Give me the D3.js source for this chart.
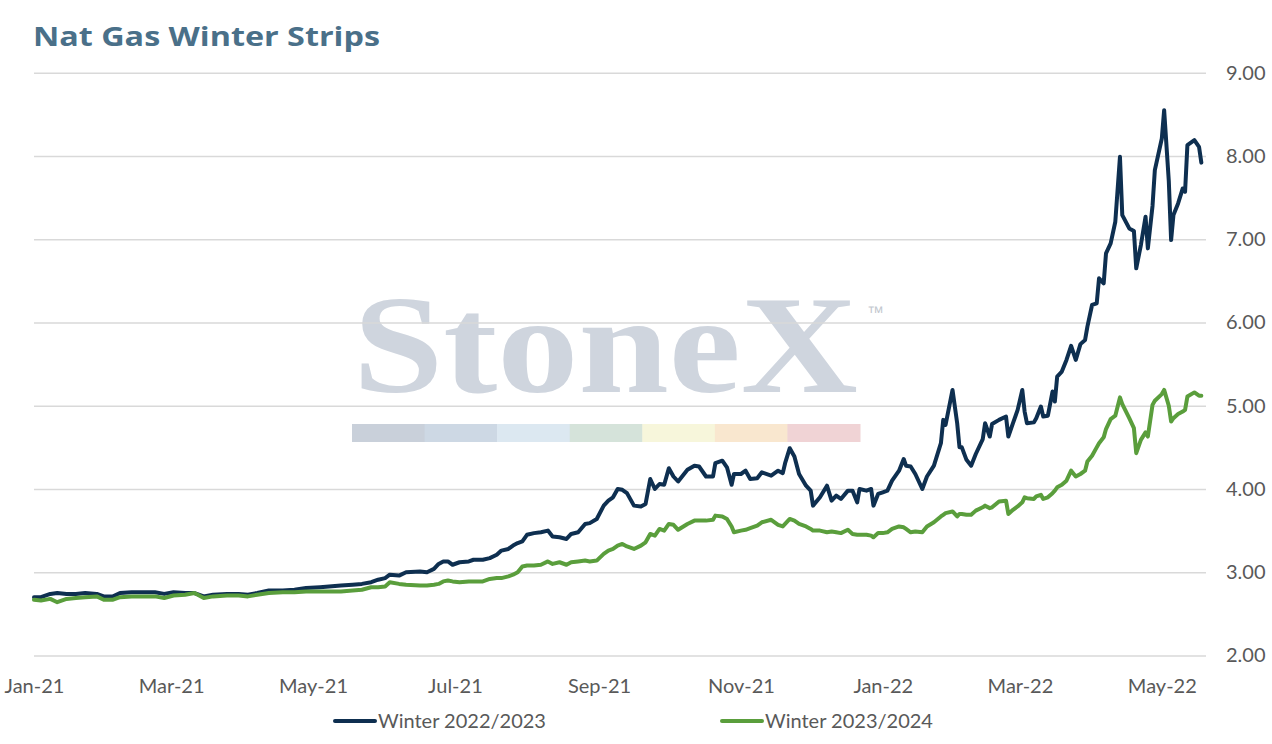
<!DOCTYPE html>
<html>
<head>
<meta charset="utf-8">
<title>Nat Gas Winter Strips</title>
<script src="https://cdn.jsdelivr.net/npm/d3@7"></script>
<style>
  body { margin: 0; background: #fff; }
  svg { display: block; }
</style>
</head>
<body>
<svg id="chart"></svg>
<script>
// roughly every 2-4 days
var dates = [
  "2021-01-01","2021-01-04","2021-01-08","2021-01-11","2021-01-15","2021-01-19","2021-01-23","2021-01-28","2021-01-31",
  "2021-02-04","2021-02-07","2021-02-12","2021-02-17","2021-02-22","2021-02-26",
  "2021-03-02","2021-03-07","2021-03-11","2021-03-15","2021-03-19","2021-03-25","2021-03-30",
  "2021-04-03","2021-04-07","2021-04-12","2021-04-18","2021-04-23","2021-04-28",
  "2021-05-04","2021-05-13","2021-05-18","2021-05-22","2021-05-26","2021-05-29",
  "2021-06-01","2021-06-03","2021-06-07","2021-06-10","2021-06-16","2021-06-19","2021-06-22","2021-06-24","2021-06-26","2021-06-28","2021-06-30",
  "2021-07-03","2021-07-07","2021-07-09","2021-07-13","2021-07-16","2021-07-19","2021-07-21","2021-07-24","2021-07-26","2021-07-28","2021-07-30",
  "2021-08-01","2021-08-04","2021-08-07","2021-08-10","2021-08-12","2021-08-15","2021-08-18","2021-08-20","2021-08-23","2021-08-26","2021-08-28","2021-08-31",
  "2021-09-03","2021-09-05","2021-09-07","2021-09-09","2021-09-11","2021-09-13","2021-09-16","2021-09-19","2021-09-21","2021-09-23","2021-09-25","2021-09-27","2021-09-29",
  "2021-10-01","2021-10-03","2021-10-05","2021-10-09","2021-10-12","2021-10-14","2021-10-17","2021-10-20","2021-10-21","2021-10-24","2021-10-26","2021-10-28","2021-10-29",
  "2021-11-01","2021-11-03","2021-11-05","2021-11-08","2021-11-10","2021-11-14","2021-11-17","2021-11-19","2021-11-20","2021-11-22","2021-11-24","2021-11-26","2021-11-29",
  "2021-12-01","2021-12-02","2021-12-05","2021-12-08","2021-12-10","2021-12-12","2021-12-14","2021-12-17","2021-12-19","2021-12-21","2021-12-22","2021-12-25","2021-12-27","2021-12-28","2021-12-30",
  "2022-01-01","2022-01-03","2022-01-05","2022-01-08","2022-01-10","2022-01-11","2022-01-13","2022-01-15","2022-01-18","2022-01-20","2022-01-23","2022-01-26","2022-01-27","2022-01-28","2022-01-31",
  "2022-02-02","2022-02-03","2022-02-04","2022-02-06","2022-02-08","2022-02-10","2022-02-13","2022-02-14","2022-02-16","2022-02-17","2022-02-20","2022-02-23","2022-02-24","2022-02-26","2022-02-28",
  "2022-03-02","2022-03-03","2022-03-04","2022-03-07","2022-03-08","2022-03-10","2022-03-11","2022-03-13","2022-03-15","2022-03-16","2022-03-17","2022-03-19","2022-03-21","2022-03-23","2022-03-25","2022-03-27","2022-03-29","2022-03-30",
  "2022-04-01","2022-04-03","2022-04-04","2022-04-06","2022-04-07","2022-04-09","2022-04-11","2022-04-13","2022-04-14","2022-04-17","2022-04-19","2022-04-20","2022-04-22","2022-04-24","2022-04-25","2022-04-27","2022-04-28",
  "2022-05-01","2022-05-02","2022-05-04","2022-05-05","2022-05-06","2022-05-08","2022-05-10","2022-05-11","2022-05-12","2022-05-15","2022-05-17","2022-05-18"
];

var winter2223 = [
  2.70,2.70,2.74,2.75,2.74,2.74,2.75,2.74,2.71,
  2.71,2.75,2.76,2.76,2.76,2.74,
  2.76,2.75,2.75,2.71,2.73,2.74,2.74,
  2.73,2.75,2.78,2.78,2.79,2.81,
  2.82,2.84,2.85,2.86,2.88,2.91,
  2.93,2.97,2.96,3.00,3.01,3.00,3.04,3.10,3.13,3.13,3.09,
  3.12,3.13,3.15,3.15,3.17,3.21,3.26,3.28,3.32,3.35,3.37,
  3.45,3.47,3.48,3.50,3.43,3.42,3.40,3.46,3.48,3.58,3.59,3.64,
  3.80,3.86,3.90,4.00,3.99,3.95,3.80,3.79,3.82,4.12,4.00,4.06,4.05,
  4.25,4.15,4.09,4.23,4.28,4.27,4.15,4.15,4.31,4.34,4.26,4.05,4.18,
  4.18,4.22,4.12,4.13,4.20,4.16,4.22,4.19,4.31,4.49,4.39,4.18,4.04,
  3.98,3.80,3.90,4.04,3.86,3.92,3.88,3.98,3.98,3.84,4.00,3.98,4.00,3.80,3.94,
  3.96,3.98,4.10,4.22,4.36,4.28,4.27,4.18,4.00,4.15,4.28,4.55,4.83,4.77,5.19,
  4.79,4.50,4.50,4.35,4.28,4.42,4.60,4.79,4.63,4.78,4.83,4.87,4.63,4.79,4.95,
  5.19,4.93,4.79,4.80,4.85,4.99,4.87,4.88,5.17,5.05,5.35,5.41,5.55,5.72,5.55,5.74,5.79,5.95,
  6.21,6.23,6.53,6.47,6.83,6.95,7.21,7.99,7.29,7.13,7.10,6.65,6.93,7.27,6.89,7.40,7.83,
  8.21,8.55,7.70,6.99,7.29,7.43,7.61,7.57,8.13,8.19,8.11,7.92
];

var winter2324 = [
  2.67,2.66,2.68,2.64,2.68,2.69,2.70,2.71,2.67,
  2.67,2.70,2.71,2.71,2.71,2.69,
  2.72,2.73,2.75,2.69,2.71,2.72,2.72,
  2.71,2.73,2.75,2.76,2.76,2.77,
  2.77,2.77,2.78,2.79,2.82,2.82,
  2.83,2.88,2.86,2.85,2.84,2.84,2.85,2.86,2.89,2.90,2.89,
  2.88,2.89,2.89,2.89,2.92,2.93,2.93,2.95,2.97,3.00,3.07,
  3.08,3.08,3.09,3.13,3.10,3.12,3.09,3.12,3.13,3.14,3.13,3.14,
  3.22,3.26,3.28,3.32,3.34,3.31,3.28,3.32,3.36,3.46,3.44,3.52,3.50,
  3.58,3.57,3.51,3.58,3.62,3.62,3.62,3.63,3.68,3.67,3.64,3.55,3.48,
  3.50,3.51,3.53,3.56,3.60,3.63,3.57,3.55,3.58,3.64,3.62,3.58,3.55,
  3.52,3.50,3.50,3.48,3.49,3.48,3.47,3.51,3.46,3.45,3.45,3.45,3.44,3.42,3.47,
  3.47,3.48,3.52,3.55,3.54,3.52,3.48,3.49,3.48,3.55,3.60,3.67,3.69,3.71,3.73,
  3.67,3.70,3.70,3.69,3.69,3.74,3.78,3.80,3.77,3.78,3.85,3.86,3.70,3.75,3.79,
  3.84,3.90,3.89,3.88,3.91,3.93,3.88,3.90,3.95,3.98,4.02,4.05,4.10,4.22,4.15,4.18,4.22,4.33,
  4.40,4.50,4.55,4.62,4.72,4.84,4.88,5.10,5.02,4.85,4.73,4.43,4.59,4.68,4.63,5.01,5.06,
  5.14,5.19,5.00,4.81,4.85,4.90,4.93,4.95,5.11,5.16,5.12,5.12
];

var seriesNames = ["Winter 2022/2023", "Winter 2023/2024"];
var seriesColors = ["#0e2f50", "#5a9e3c"];
var yTicks = [2, 3, 4, 5, 6, 7, 8, 9];
var xTicks = ["2021-01-01","2021-03-01","2021-05-01","2021-07-01","2021-09-01","2021-11-01",
              "2022-01-01","2022-03-01","2022-05-01"];
var xDomain = ["2021-01-01", "2022-05-20"];
var stripeColors = ["#c9d0da","#cdd8e4","#dce8f1","#d5e3da","#f7f6db","#f9e7cf","#f0d3d5"];

(function() { // keep layout names off window (window.top is read-only)

var W = 1272, H = 744;
var plotLeft = 34, plotRight = 1206, plotTop = 72.7, plotBottom = 655.5;

var parse = d3.timeParse("%Y-%m-%d");

var svg = d3.select("#chart")
    .attr("width", W)
    .attr("height", H);

var x = d3.scaleTime()
    .domain(xDomain.map(parse))
    .range([plotLeft, plotRight]);

var y = d3.scaleLinear()
    .domain([2, 9])
    .range([plotBottom, plotTop]);

// title
svg.append("text")
    .attr("x", 33)
    .attr("y", 46)
    .attr("textLength", 347)
    .attr("lengthAdjust", "spacingAndGlyphs")
    .style("font-family", "'Open Sans', sans-serif")
    .style("font-weight", 700)
    .style("font-size", "27px")
    .style("fill", "#4a7089")
    .text("Nat Gas Winter Strips");

// watermark sits under the grid
var wm = svg.append("g");
wm.append("text")
    .attr("x", 353)
    .attr("y", 392)
    .attr("textLength", 505)
    .attr("lengthAdjust", "spacingAndGlyphs")
    .style("font-family", "'Liberation Serif', serif")
    .style("font-weight", 700)
    .style("font-size", "140px")
    .style("fill", "#cfd5de")
    .text("StoneX");
wm.append("text")
    .attr("x", 867)
    .attr("y", 318)
    .style("font-family", "'Liberation Sans', sans-serif")
    .style("font-size", "17px")
    .style("fill", "#c3c8cf")
    .text("\u2122");

var stripe = d3.scaleBand()
    .domain(d3.range(stripeColors.length))
    .range([352, 860]);
wm.selectAll("rect")
    .data(stripeColors)
    .enter().append("rect")
    .attr("x", function(d, i) { return stripe(i); })
    .attr("y", 424)
    .attr("width", stripe.bandwidth() + 0.5)
    .attr("height", 18)
    .attr("fill", function(d) { return d; });

// y axis on the right, ticks stretched into grid lines
var yAxis = svg.append("g")
    .attr("transform", "translate(" + plotRight + ",0)")
    .call(d3.axisRight(y)
        .tickValues(yTicks)
        .tickSize(-(plotRight - plotLeft))
        .tickPadding(20)
        .tickFormat(d3.format(".2f")));
yAxis.select(".domain").remove();
yAxis.selectAll("line")
    .attr("stroke", "#d9d9d9")
    .attr("stroke-width", 1.5);
yAxis.selectAll("text")
    .style("font-family", "Lato, sans-serif")
    .style("font-size", "20px")
    .style("fill", "#595959");

var xAxis = svg.append("g")
    .attr("transform", "translate(0," + plotBottom + ")")
    .call(d3.axisBottom(x)
        .tickValues(xTicks.map(parse))
        .tickSize(0)
        .tickPadding(23)
        .tickFormat(d3.timeFormat("%b-%y")));
xAxis.select(".domain").remove();
xAxis.selectAll("text")
    .style("font-family", "Lato, sans-serif")
    .style("font-size", "20px")
    .style("fill", "#595959");

// lines
var series = [winter2223, winter2324].map(function(vals, k) {
  return {
    name: seriesNames[k],
    color: seriesColors[k],
    values: vals.map(function(v, i) { return { date: parse(dates[i]), value: v }; })
  };
});

var line = d3.line()
    .x(function(d) { return x(d.date); })
    .y(function(d) { return y(d.value); });

svg.append("g").selectAll("path")
    .data(series)
    .enter().append("path")
    .attr("d", function(d) { return line(d.values); })
    .attr("fill", "none")
    .attr("stroke", function(d) { return d.color; })
    .attr("stroke-width", 4)
    .attr("stroke-linejoin", "round")
    .attr("stroke-linecap", "round");

// legend
var legendX = [333, 720];
var legend = svg.append("g").selectAll("g")
    .data(series)
    .enter().append("g")
    .attr("transform", function(d, i) { return "translate(" + legendX[i] + ",721)"; });

legend.append("line")
    .attr("x1", 2)
    .attr("x2", 42)
    .attr("stroke", function(d) { return d.color; })
    .attr("stroke-width", 4)
    .attr("stroke-linecap", "round");

legend.append("text")
    .attr("x", 45)
    .attr("dy", "0.35em")
    .style("font-family", "Lato, sans-serif")
    .style("font-size", "20px")
    .style("fill", "#595959")
    .text(function(d) { return d.name; });

})();
</script>
</body>
</html>
